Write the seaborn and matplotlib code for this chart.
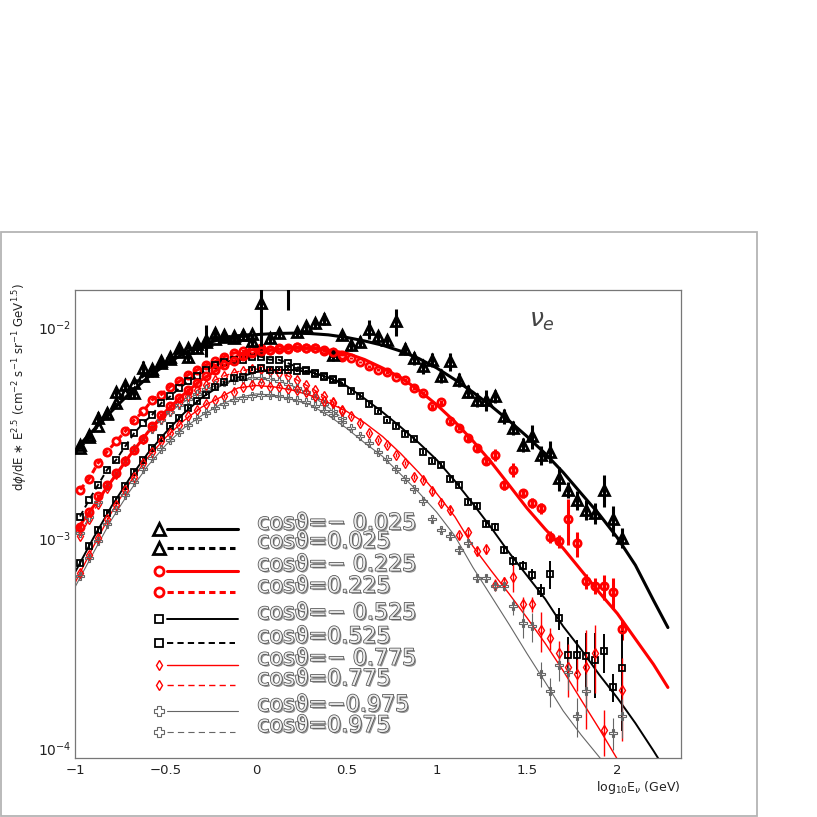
import numpy as np
import pandas as pd
import matplotlib
matplotlib.use('Agg')
import matplotlib.pyplot as plt
import matplotlib.patheffects as pe
from matplotlib.lines import Line2D
from matplotlib.patches import Rectangle
from matplotlib.ticker import MultipleLocator, LogLocator, NullFormatter
import seaborn as sns

# bin centres, log10(E / GeV)
log_e = np.round(np.arange(-0.975, 2.05, 0.05), 3)   # 61 bins
# grid of the fitted curves
fit_x = [-1.0, -0.9, -0.8, -0.7, -0.6, -0.5, -0.4, -0.3, -0.2, -0.1,
         0.0, 0.1, 0.2, 0.3, 0.4, 0.5, 0.6, 0.7, 0.8, 0.9,
         1.0, 1.1, 1.2, 1.3, 1.4, 1.5, 1.6, 1.7, 1.8, 1.9,
         2.0, 2.1, 2.2, 2.28]

# fluxes in units of 1e-3 (cm^-2 s^-1 sr^-1 GeV^1.5)
nan = np.nan
tri_m025 = [2.76, 3.08, 3.69, 3.90, 4.93, 5.31, 4.85, 6.37, 6.14, 6.85,
            7.03, 7.93, 7.23, 7.93, 8.68, 9.33, 9.16, 8.84, 9.16, 8.61,
            13.0, 8.84, 9.33, 17.5, 9.45, 10.1, 10.4, 10.9, 7.36, 9.16,
            8.22, 8.51, 9.75, 9.00, 8.68, 10.6, 7.84, 7.11, 6.49, 6.98,
            5.87, 6.85, 5.61, 4.93, 4.51, 4.51, 4.68, 3.76, 3.31, 2.76,
            3.02, 2.47, 2.56, 1.92, 1.69, 1.51, 1.36, 1.31, 1.69, 1.22,
            1.00]
tri_m025_err = [0.12, 0.15, 0.25, 0.2, 0.25, 0.3, 0.3, 0.5, 0.35, 0.4,
                0.4, 0.45, 0.4, 0.45, 1.5, 0.5, 0.5, 0.5, 0.5, 0.5,
                5.8, 0.5, 0.5, 5.5, 0.5, 0.6, 0.6, 0.7, 0.5, 0.5,
                0.5, 0.5, 1.0, 0.6, 0.5, 1.6, 0.5, 0.5, 0.5, 0.5,
                0.45, 0.7, 0.4, 0.35, 0.35, 0.5, 0.35, 0.3, 0.25, 0.2,
                0.4, 0.25, 0.3, 0.25, 0.15, 0.15, 0.15, 0.15, 0.29, 0.2,
                0.11]
tri_p025 = [2.66, 3.00, 3.40, 3.85, 4.35, 4.85, 5.40, 5.85, 6.30, 6.75,
            7.20, 7.60, 7.95, 8.25, 8.50, 8.75, 8.90, 9.05, 9.10, 9.20]

circ_m225 = [1.13, 1.33, 1.57, 1.78, 2.03, 2.30, 2.61, 2.94, 3.37, 3.83,
             4.22, 4.62, 5.01, 5.43, 5.82, 6.24, 6.61, 6.92, 7.24, 7.50,
             7.67, 7.80, 7.87, 7.94, 7.98, 7.94, 7.94, 7.73, 7.60, 7.36,
             7.10, 6.80, 6.50, 6.25, 6.10, 5.81, 5.61, 5.13, 4.85, 4.19,
             4.38, 3.56, 3.33, 2.96, 2.66, 2.30, 2.47, 1.78, 2.10, 1.63,
             1.46, 1.38, 1.01, 0.96, 1.22, 0.94, 0.621, 0.593, 0.588, 0.551,
             0.369]
circ_m225_err = [0.03, 0.03, 0.04, 0.04, 0.05, 0.05, 0.06, 0.06, 0.07, 0.08,
                 0.08, 0.09, 0.1, 0.1, 0.1, 0.1, 0.1, 0.1, 0.1, 0.1,
                 0.1, 0.1, 0.1, 0.1, 0.1, 0.1, 0.1, 0.1, 0.1, 0.1,
                 0.1, 0.1, 0.1, 0.1, 0.1, 0.1, 0.1, 0.1, 0.1, 0.12,
                 0.12, 0.1, 0.1, 0.1, 0.1, 0.1, 0.15, 0.1, 0.17, 0.08,
                 0.08, 0.08, 0.07, 0.07, 0.3, 0.13, 0.05, 0.05, 0.08, 0.09,
                 0.04]
circ_p225 = [1.69, 1.90, 2.26, 2.56, 2.86, 3.19, 3.62, 3.97, 4.51, 4.77,
             5.21, 5.51, 5.93, 6.25, 6.61, 6.85, 7.23, 7.50, 7.64, 7.78,
             7.90, 7.75, 7.95, 7.85, 8.00, 7.90, 7.95, 7.70, 7.50, 7.20]

sq_m525 = [0.758, 0.916, 1.09, 1.31, 1.51, 1.75, 2.06, 2.34, 2.66, 2.96,
           3.37, 3.69, 4.12, 4.43, 4.77, 5.18, 5.45, 5.72, 5.75, 6.25,
           6.37, 6.25, 6.25, 6.25, 6.20, 6.15, 6.00, 5.81, 5.60, 5.40,
           4.95, 4.70, 4.30, 3.97, 3.60, 3.40, 3.10, 2.95, 2.55, 2.30,
           2.20, 1.90, 1.78, 1.48, 1.42, 1.16, 1.13, 0.877, 0.778, 0.736,
           0.668, 0.561, 0.673, 0.416, 0.279, 0.277, 0.274, 0.264, 0.289, 0.196,
           0.241]
sq_m525_err = [0.02, 0.03, 0.03, 0.04, 0.04, 0.05, 0.05, 0.06, 0.06, 0.07,
               0.07, 0.08, 0.08, 0.09, 0.09, 0.1, 0.1, 0.1, 0.1, 0.1,
               0.1, 0.1, 0.1, 0.1, 0.1, 0.1, 0.1, 0.1, 0.1, 0.1,
               0.1, 0.1, 0.08, 0.08, 0.07, 0.07, 0.06, 0.06, 0.05, 0.05,
               0.05, 0.05, 0.04, 0.04, 0.04, 0.04, 0.04, 0.04, 0.04, 0.04,
               0.04, 0.04, 0.1, 0.05, 0.06, 0.05, 0.08, 0.09, 0.06, 0.03,
               0.12]
sq_p525 = [1.26, 1.51, 1.78, 2.10, 2.34, 2.71, 3.13, 3.50, 3.83, 4.35,
           4.68, 5.12, 5.51, 5.86, 6.25, 6.61, 6.78, 6.98, 6.98, 7.18,
           7.23, 6.98, 6.98, 6.73, 6.45, 6.25, 6.05, 5.85, 5.65, 5.45]

dia_m775 = [0.681, 0.83, 0.998, 1.22, 1.43, 1.69, 1.95, 2.26, 2.56, 2.86,
            3.13, 3.43, 3.76, 4.04, 4.31, 4.51, 4.68, 4.93, 5.18, 5.31,
            5.41, 5.21, 5.21, 5.07, 5.02, 4.93, 4.68, 4.43, 4.35, 3.97,
            3.76, 3.50, 3.13, 2.91, 2.76, 2.47, 2.26, 1.95, 1.88, 1.66,
            1.46, 1.36, 1.03, 1.06, 0.861, 0.88, 0.598, 0.614, 0.652, 0.486,
            0.486, 0.366, 0.335, 0.284, 0.245, 0.227, 0.244, 0.284, 0.122, nan,
            0.189]
dia_m775_err = [0.02, 0.02, 0.03, 0.03, 0.03, 0.04, 0.04, 0.05, 0.05, 0.05,
                0.06, 0.06, 0.07, 0.07, 0.07, 0.08, 0.08, 0.08, 0.08, 0.08,
                0.08, 0.08, 0.08, 0.08, 0.08, 0.08, 0.08, 0.08, 0.08, 0.08,
                0.07, 0.07, 0.06, 0.06, 0.06, 0.05, 0.05, 0.05, 0.05, 0.05,
                0.05, 0.05, 0.04, 0.04, 0.04, 0.04, 0.04, 0.04, 0.1, 0.04,
                0.04, 0.08, 0.04, 0.04, 0.07, 0.04, 0.12, 0.1, 0.03, nan,
                0.08]
dia_p775 = [1.02, 1.22, 1.45, 1.72, 2.00, 2.30, 2.62, 2.95, 3.30, 3.65,
            4.00, 4.35, 4.70, 5.00, 5.30, 5.60, 5.85, 6.05, 6.20, 6.30,
            6.30, 6.20, 6.05, 5.85, 5.60, 5.30, 5.00, 4.70, 4.40, 4.05]

crs_m975 = [0.657, 0.80, 0.96, 1.16, 1.36, 1.60, 1.84, 2.12, 2.38, 2.64,
            2.90, 3.16, 3.42, 3.66, 3.90, 4.10, 4.30, 4.48, 4.62, 4.72,
            4.77, 4.74, 4.70, 4.62, 4.50, 4.38, 4.20, 4.00, 3.80, 3.55,
            3.30, 3.05, 2.80, 2.55, 2.35, 2.12, 1.90, 1.70, 1.50, 1.22,
            1.09, 1.02, 0.877, 0.944, 0.645, 0.645, 0.588, 0.588, 0.472, 0.394,
            0.380, 0.227, 0.187, 0.250, 0.230, 0.143, 0.187, nan, nan, 0.119,
            0.142]
crs_m975_err = [0.02, 0.02, 0.03, 0.03, 0.03, 0.04, 0.04, 0.04, 0.05, 0.05,
                0.05, 0.06, 0.06, 0.06, 0.07, 0.07, 0.07, 0.07, 0.07, 0.07,
                0.07, 0.07, 0.07, 0.07, 0.07, 0.07, 0.07, 0.07, 0.07, 0.07,
                0.06, 0.06, 0.06, 0.05, 0.05, 0.05, 0.05, 0.04, 0.04, 0.04,
                0.04, 0.04, 0.04, 0.04, 0.03, 0.03, 0.03, 0.03, 0.04, 0.06,
                0.06, 0.03, 0.03, 0.04, 0.04, 0.03, 0.04, nan, nan, 0.02,
                0.03]
crs_p975 = [1.05, 1.25, 1.48, 1.75, 2.02, 2.32, 2.62, 2.95, 3.28, 3.62,
            3.95, 4.25, 4.55, 4.82, 5.05, 5.28, 5.45, 5.58, 5.68, 5.72,
            5.72, 5.65, 5.52, 5.35, 5.15, 4.90, 4.60, 4.30, 4.00, 3.70]

# smooth curves through the upward-going samples
fit_m025 = [2.63, 3.24, 3.98, 4.84, 5.75, 6.61, 7.50, 8.22, 8.71, 9.02,
            9.18, 9.29, 9.33, 9.29, 9.16, 8.91, 8.57, 8.18, 7.67, 7.08,
            6.38, 5.62, 4.90, 4.22, 3.59, 3.02, 2.51, 2.04, 1.62, 1.29,
            1.00, 0.741, 0.505, 0.375]
fit_m225 = [1.07, 1.41, 1.86, 2.45, 3.16, 3.98, 4.79, 5.62, 6.38, 7.00,
            7.50, 7.80, 7.94, 7.94, 7.76, 7.50, 7.00, 6.38, 5.75, 5.01,
            4.27, 3.55, 2.88, 2.29, 1.78, 1.38, 1.10, 0.891, 0.700, 0.550,
            0.437, 0.331, 0.251, 0.195]
fit_m525 = [0.692, 1.00, 1.41, 1.91, 2.51, 3.16, 3.89, 4.62, 5.25, 5.75,
            6.10, 6.24, 6.24, 6.10, 5.75, 5.25, 4.57, 3.94, 3.35, 2.82,
            2.34, 1.86, 1.45, 1.12, 0.851, 0.661, 0.513, 0.380, 0.295, 0.224,
            0.174, 0.132, 0.0977, 0.0759]
fit_m775 = [0.617, 0.912, 1.32, 1.82, 2.40, 2.99, 3.59, 4.17, 4.62, 5.13,
            5.27, 5.19, 5.01, 4.73, 4.37, 3.98, 3.51, 3.02, 2.51, 2.04,
            1.62, 1.26, 0.912, 0.700, 0.543, 0.417, 0.316, 0.234, 0.170, 0.124,
            0.0891, 0.0631, nan, nan]
fit_m975 = [0.589, 0.851, 1.22, 1.66, 2.19, 2.75, 3.31, 3.80, 4.27, 4.62,
            4.81, 4.73, 4.52, 4.27, 3.80, 3.31, 2.82, 2.43, 2.00, 1.64,
            1.32, 1.02, 0.724, 0.531, 0.389, 0.282, 0.207, 0.151, 0.116, 0.0912,
            0.0708, nan, nan, nan]

legend_labels = ['cosϑ=− 0.025', 'cosϑ=0.025', 'cosϑ=− 0.225', 'cosϑ=0.225',
                 'cosϑ=− 0.525', 'cosϑ=0.525', 'cosϑ=− 0.775', 'cosϑ=0.775',
                 'cosϑ=−0.975', 'cosϑ=0.975']
xtick_pos = [-1, -0.5, 0, 0.5, 1, 1.5, 2]
xtick_labels = ['−1', '−0.5', '0', '0.5', '1', '1.5', '2']

unit = 1e-3

# marker, colour, marker size, edge width, line width
styles = [
    ('^', 'black', 6.8, 2.0, 2.2),
    ('o', '#ff0000', 5.2, 2.0, 2.2),
    ('s', 'black', 4.6, 1.3, 1.4),
    ('d', '#ff0000', 4.6, 1.0, 1.0),
    ('P', '#666666', 5.6, 0.8, 0.8),
]
leg_ms = [8.0, 6.5, 5.8, 5.0, 6.5]
down_sets = [(tri_m025, tri_m025_err, fit_m025), (circ_m225, circ_m225_err, fit_m225),
             (sq_m525, sq_m525_err, fit_m525), (dia_m775, dia_m775_err, fit_m775),
             (crs_m975, crs_m975_err, fit_m975)]
up_sets = [tri_p025, circ_p225, sq_p525, dia_p775, crs_p975]

sns.set_style('white')
plt.rcParams['font.family'] = ['DejaVu Sans']
plt.rcParams['mathtext.fontset'] = 'dejavusans'

fig = plt.figure(figsize=(8.17, 8.17), dpi=100)
ax = fig.add_axes([0.0924, 0.0719, 0.7417, 0.5728])
ax.set_yscale('log')


def dash(lw):
    return (0, (4.5 / lw, 3.0 / lw))


for (mk, col, ms, mew, lw), vals in zip(styles, up_sets):
    n = len(vals)
    df = pd.DataFrame({'log_e': log_e[:n], 'flux': np.array(vals) * unit})
    sns.lineplot(data=df, x='log_e', y='flux', ax=ax, color=col, lw=lw,
                 linestyle=dash(lw), errorbar=None, zorder=2)
    ax.plot(df['log_e'], df['flux'], ls='none', marker=mk, ms=ms, mfc='none',
            mec=col, mew=mew, zorder=3)

for (mk, col, ms, mew, lw), (vals, errs, fit) in zip(styles, down_sets):
    fdf = pd.DataFrame({'log_e': fit_x, 'flux': np.array(fit) * unit})
    sns.lineplot(data=fdf, x='log_e', y='flux', ax=ax, color=col, lw=lw,
                 errorbar=None, zorder=2)
    ax.errorbar(log_e, np.array(vals) * unit, yerr=np.array(errs) * unit,
                fmt=mk, ms=ms, mfc='none', mec=col, mew=mew, ecolor=col,
                elinewidth=lw, capsize=0, zorder=3)

ax.set_xlim(-1.0, 2.355)
ax.set_ylim(9.0e-5, 1.49e-2)
ax.set_xlabel('')
ax.set_ylabel('')

ax.set_xticks(xtick_pos, labels=xtick_labels)
ax.xaxis.set_minor_locator(MultipleLocator(0.1))
ax.yaxis.set_major_locator(LogLocator(base=10))
ax.yaxis.set_minor_locator(LogLocator(base=10, subs=np.arange(2, 10)))
ax.yaxis.set_minor_formatter(NullFormatter())
ax.tick_params(axis='x', which='major', direction='in', length=6.5, width=0.8,
               color='#777777', labelsize=9.5, labelcolor='#222222', pad=4)
ax.tick_params(axis='x', which='minor', direction='in', length=3.2, width=0.8,
               color='#777777')
ax.tick_params(axis='y', which='major', direction='in', length=8.6, width=0.8,
               color='#999999', labelsize=10, labelcolor='#222222', pad=3)
ax.tick_params(axis='y', which='minor', direction='in', length=4.3, width=0.8,
               color='#999999')
for sp in ax.spines.values():
    sp.set_color('#777777')
    sp.set_linewidth(0.9)

ax.text(0.748, 0.922, r'$\nu_e$', transform=ax.transAxes, fontsize=18,
        color='#444444', style='italic')

fig.text(20 / 817, 1 - 387 / 817,
         r'd$\phi$/dE $\ast$ E$^{2.5}$ (cm$^{-2}$ s$^{-1}$ sr$^{-1}$ GeV$^{1.5}$)',
         rotation=90, ha='center', va='center', fontsize=8.5, color='#222222')
fig.text(681 / 817, 1 - 787 / 817, r'log$_{10}$E$_{\nu}$ (GeV)',
         ha='right', va='center', fontsize=9, color='#222222')

# hand-made legend, ROOT style
rows_px = [529.3, 547.7, 570.7, 592.3, 619.0, 642.7, 664.7, 685.0, 711.0, 731.7]
leg_styles = [(s, m) for s, m in zip(styles, leg_ms) for _ in (0, 1)]
for i, (label, ((mk, col, ms, mew, lw), lms), ypx) in enumerate(zip(legend_labels, leg_styles, rows_px)):
    fy = 1 - ypx / 817
    solid = i % 2 == 0
    x1 = 238.3 if solid else 235.0
    fig.add_artist(Line2D([166.7 / 817, x1 / 817], [fy, fy], transform=fig.transFigure,
                          color=col, lw=lw, ls='-' if solid else dash(lw)))
    fig.add_artist(Line2D([159 / 817], [fy], transform=fig.transFigure, ls='none',
                          marker=mk, ms=lms, mfc='none', mec=col, mew=mew))
    fig.text(257.3 / 817, fy, label, fontsize=16, va='baseline', ha='left',
             color='#ececec',
             path_effects=[pe.SimplePatchShadow(offset=(1.2, -1.2), shadow_rgbFace='#8a8a8a', alpha=0.9),
                           pe.Stroke(linewidth=1.1, foreground='#505050'), pe.Normal()])

# canvas frame
fig.add_artist(Rectangle((1 / 817, 1 / 817), 756 / 817, 584 / 817, transform=fig.transFigure,
                         fill=False, ec='#b4b4b4', lw=1.3))

fig.savefig('out.png', dpi=100, facecolor='white')
